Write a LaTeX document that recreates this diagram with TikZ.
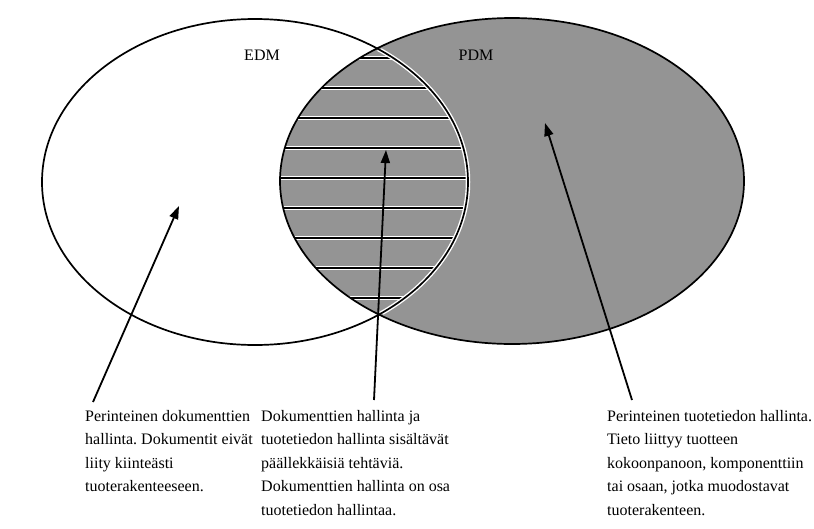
\documentclass[tikz,border=0pt]{standalone}
\usepackage{fontspec}
\setmainfont{Liberation Serif}
\usetikzlibrary{arrows.meta}
\frenchspacing
\begin{document}
\begin{tikzpicture}[x=1pt,y=-1pt,
  outline/.style={line width=1.7pt},
  halo/.style={white,line width=4.5pt},
  hatch/.style={line width=1.7pt},
  pointer/.style={line width=1.8pt,-{Triangle[length=13pt,width=9pt]}},
  caption/.style={anchor=north west,align=left,inner sep=0pt,font=\fontsize{16}{23.5}\selectfont},
  setlabel/.style={inner sep=0pt,font=\fontsize{16}{19}\selectfont}]
\useasboundingbox (0,0) rectangle (814,528);
% shaded PDM area
\fill[black!42] (512,181) ellipse [x radius=232pt, y radius=163pt];
% hatching of the common area
\begin{scope}
  \clip (255,182) ellipse [x radius=213pt, y radius=163pt];
  \clip (512,181) ellipse [x radius=232pt, y radius=163pt];
  \foreach \k in {0,...,8}
    \draw[halo] (250,58+30*\k) -- (500,58+30*\k);
  \foreach \k in {0,...,8}
    \draw[hatch] (250,58+30*\k) -- (500,58+30*\k);
\end{scope}
% light fringe along the EDM border inside the shaded area
\begin{scope}
  \clip (512,181) ellipse [x radius=230pt, y radius=161pt];
  \draw[halo] (255,182) ellipse [x radius=213pt, y radius=163pt];
\end{scope}
% outlines
\draw[outline] (255,182) ellipse [x radius=213pt, y radius=163pt];
\draw[outline] (512,181) ellipse [x radius=232pt, y radius=163pt];
% set names
\node[setlabel] (edm) at (262,55) {EDM};
\node[setlabel] (pdm) at (476,55) {PDM};
% captions
\node[caption] (c1) at (85,410) {Perinteinen dokumenttien\\hallinta. Dokumentit eivät\\liity kiinteästi\\tuoterakenteeseen.};
\node[caption] (c2) at (261,410) {Dokumenttien hallinta ja\\tuotetiedon hallinta sisältävät\\päällekkäisiä tehtäviä.\\Dokumenttien hallinta on osa\\tuotetiedon hallintaa.};
\node[caption] (c3) at (607,410) {Perinteinen tuotetiedon hallinta.\\Tieto liittyy tuotteen\\kokoonpanoon, komponenttiin\\tai osaan, jotka muodostavat\\tuoterakenteen.};
% pointers
\coordinate (s1) at (93,402);  \coordinate (t1) at (179,206);
\coordinate (s2) at (374,400); \coordinate (t2) at (386,150);
\coordinate (s3) at (632,400); \coordinate (t3) at (545,123);
\draw[pointer] (s1) -- (t1);
\draw[pointer] (s2) -- (t2);
\draw[pointer] (s3) -- (t3);
\end{tikzpicture}
\end{document}
